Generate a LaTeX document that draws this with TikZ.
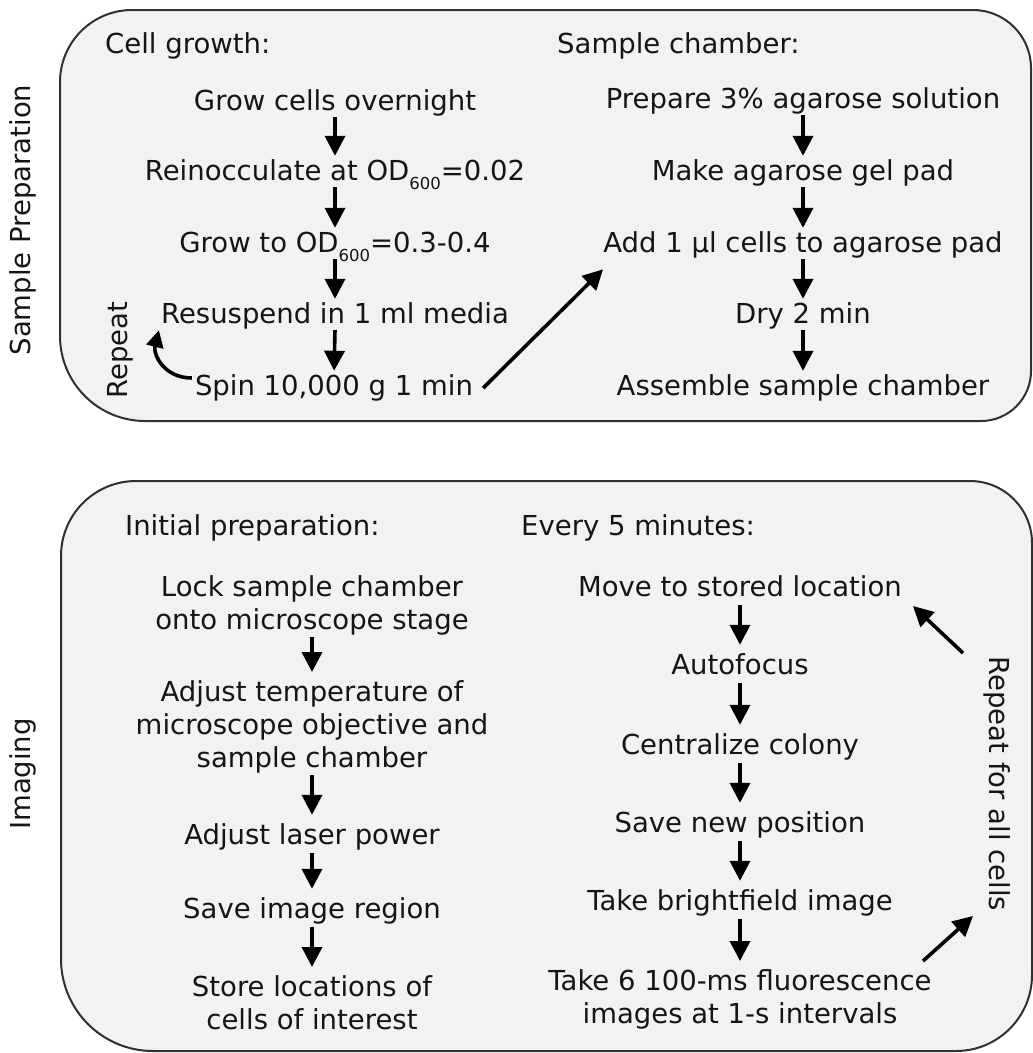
\documentclass[tikz,border=0pt]{standalone}
\usepackage{fontspec}
\setmainfont{DejaVu Sans}
\usetikzlibrary{arrows.meta,calc}
\definecolor{panelc}{HTML}{F2F2F4}
\definecolor{bordc}{HTML}{303030}
\definecolor{txtc}{HTML}{151515}
\newcommand\mainfnt{\fontsize{27.5}{33}\selectfont}
\newcommand\subsc[1]{\raisebox{-9.5pt}{\fontsize{16.5}{17}\selectfont #1}}
\tikzset{
  txt/.style={font=\mainfnt, text=txtc, inner sep=0pt, text height=21pt, text depth=7pt, anchor=base},
  mtxt/.style={font=\mainfnt, text=txtc, inner sep=0pt, align=center, anchor=north},
  hdr/.style={font=\mainfnt, text=txtc, inner sep=0pt, anchor=base west},
  side/.style={font=\mainfnt, text=txtc, inner sep=0pt},
  arr/.style={line width=3.6pt, draw=black, -{Triangle[length=20pt,width=20pt]}, shorten >=3pt},
  arrb/.style={arr, shorten >=8pt, shorten <=2pt},
  panel/.style={draw=bordc, line width=2pt, fill=panelc},
}
\begin{document}
\begin{tikzpicture}[x=1pt,y=-1pt]
\useasboundingbox (0,0) rectangle (1033,1053);
% panels
\path[panel] (60,82) .. controls (60,42.3) and (92.3,10) .. (132,10) -- (973,10)
  .. controls (1005,10) and (1031,36) .. (1031,68) -- (1031,371)
  .. controls (1031,398.6) and (1008.6,421) .. (981,421) -- (145,421)
  .. controls (98.1,421) and (60,382.9) .. (60,336) -- cycle;
\path[panel] (61,556) .. controls (61,514.6) and (94.6,481) .. (136,481) -- (970,481)
  .. controls (1004.2,481) and (1032,508.8) .. (1032,543) -- (1032,975)
  .. controls (1032,1017) and (998,1051) .. (956,1051) -- (153,1051)
  .. controls (102.2,1051) and (61,1009.8) .. (61,959) -- cycle;
% side labels
\node[side, rotate=90] (lab1) at (23,220) {Sample Preparation};
\node[side, rotate=90] (lab2) at (23,774) {Imaging};
% top left column
\node[hdr] (h1) at (105,53) {Cell growth:};
\node[txt] (g1) at (335,110) {Grow cells overnight};
\node[txt] (g2) at (335,180) {Reinocculate at OD\subsc{600}=0.02};
\node[txt] (g3) at (335,252) {Grow to OD\subsc{600}=0.3-0.4};
\node[txt] (g4) at (335,323) {Resuspend in 1 ml media};
\node[txt] (g5) at (334,395) {Spin 10,000 g 1 min};
\node[side, rotate=90] (rp) at (120,350) {Repeat};
\draw[arr] (g1.south) -- (g2.north);
\draw[arr] (g2.south) -- (g3.north);
\draw[arr] (g3.south) -- (g4.north);
\draw[arr] (g4.south) -- (g5.north);
\draw[arr, shorten >=0pt, -{Triangle[length=17pt,width=17pt]}] ($(g5.west)+(-3,-10)$) .. controls +(-28,0) and +(-6,24) .. ($(g4.south west)+(-2,0)$);
% top right column
\node[hdr] (h2) at (557,53) {Sample chamber:};
\node[txt] (s1) at (803,108) {Prepare 3\% agarose solution};
\node[txt] (s2) at (803,180) {Make agarose gel pad};
\node[txt] (s3) at (803,252) {Add 1 µl cells to agarose pad};
\node[txt] (s4) at (803,323) {Dry 2 min};
\node[txt] (s5) at (803,395) {Assemble sample chamber};
\draw[arr] (s1.south) -- (s2.north);
\draw[arr] (s2.south) -- (s3.north);
\draw[arr] (s3.south) -- (s4.north);
\draw[arr] (s4.south) -- (s5.north);
\draw[arr] ($(g5.east)+(10,0)$) -- ($(s3.south west)+(2,8)$);
% bottom left column
\node[hdr] (h3) at (125,535) {Initial preparation:};
\node[mtxt] (i1) at (312,575) {Lock sample chamber\\onto microscope stage};
\node[mtxt] (i2) at (312,680) {Adjust temperature of\\microscope objective and\\sample chamber};
\node[txt] (i3) at (312,844) {Adjust laser power};
\node[txt] (i4) at (312,918) {Save image region};
\node[mtxt] (i5) at (312,975) {Store locations of\\cells of interest};
\draw[arrb] (i1.south) -- (i2.north);
\draw[arrb] (i2.south) -- (i3.north);
\draw[arrb] (i3.south) -- (i4.north);
\draw[arrb] (i4.south) -- (i5.north);
% bottom right column
\node[hdr] (h4) at (521,535) {Every 5 minutes:};
\node[txt] (e1) at (740,596) {Move to stored location};
\node[txt] (e2) at (740,674) {Autofocus};
\node[txt] (e3) at (740,754) {Centralize colony};
\node[txt] (e4) at (740,832) {Save new position};
\node[txt] (e5) at (740,910) {Take brightfield image};
\node[mtxt] (e6) at (740,969) {Take 6 100-ms fluorescence\\images at 1-s intervals};
\draw[arrb] (e1.south) -- (e2.north);
\draw[arrb] (e2.south) -- (e3.north);
\draw[arrb] (e3.south) -- (e4.north);
\draw[arrb] (e4.south) -- (e5.north);
\draw[arrb] (e5.south) -- (e6.north);
\node[side, rotate=-90] (rep) at (997,784) {Repeat for all cells};
\coordinate (ta) at (963,653);
\coordinate (ha) at (913,606);
\coordinate (tb) at (923,961);
\coordinate (hb) at (973,916);
\draw[arr, shorten >=0pt] (ta) -- (ha);
\draw[arr, shorten >=0pt] (tb) -- (hb);
\end{tikzpicture}
\end{document}
